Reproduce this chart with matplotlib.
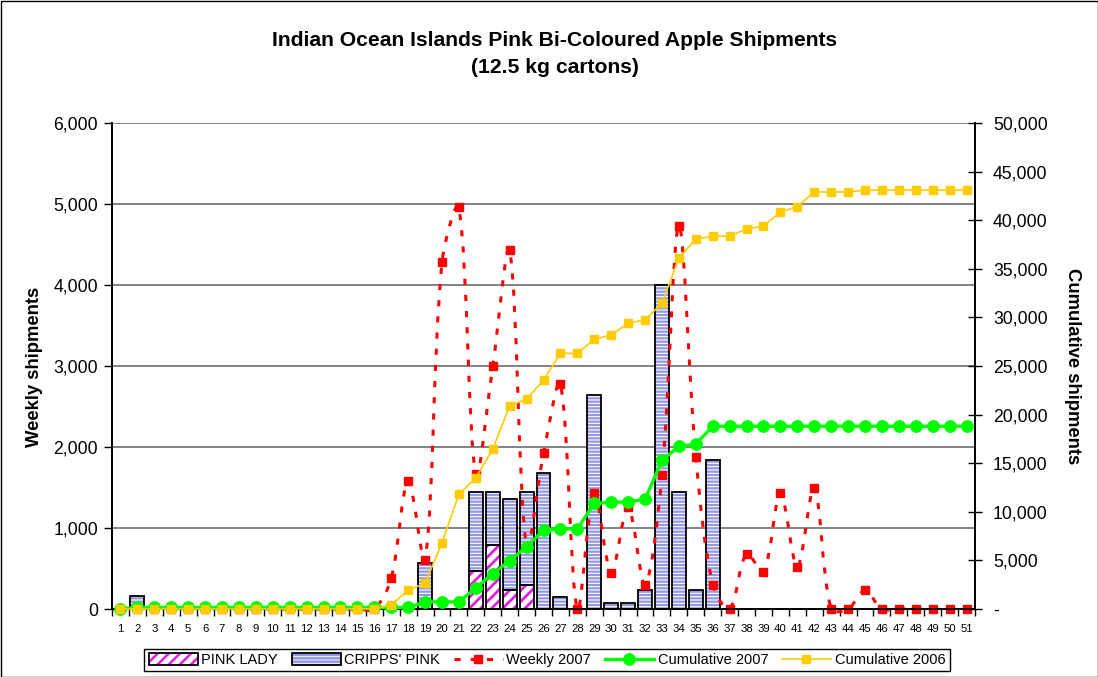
import matplotlib
matplotlib.use("Agg")
import matplotlib.pyplot as plt
import numpy as np
from matplotlib.path import Path
from matplotlib.patches import PathPatch, Patch, Rectangle
from matplotlib.lines import Line2D
from matplotlib.legend_handler import HandlerTuple
from matplotlib.ticker import FuncFormatter, MultipleLocator, FixedLocator

plt.rcParams['font.family'] = ['Liberation Sans', 'DejaVu Sans']
plt.rcParams['hatch.linewidth'] = 1.8

weeks = list(range(1, 52))

pink_lady = [0]*21 + [470, 790, 235, 300] + [0]*26

cripps_pink = [0, 160] + [0]*16 + [570, 0, 0, 970, 650, 1125, 1140, 1680, 150, 0,
               2640, 80, 80, 240, 4000, 1440, 240, 1840] + [0]*15

weekly_2007 = [0]*16 + [380, 1580, 600, 4280, 4960, 1670, 3000, 4430, 770, 1920, 2780, 0,
               1430, 450, 1260, 300, 1650, 4730, 1880, 300, 0, 680, 460, 1430, 520, 1500,
               0, 0, 230, 0, 0, 0, 0, 0, 0]

cumulative_2007 = [0] + [160]*17 + [730, 730, 730, 2170, 3610, 4970, 6410, 8090, 8240, 8240,
                   10880, 10960, 11040, 11280, 15280, 16720, 16960] + [18800]*16

cumulative_2006 = [0]*16 + [400, 1950, 2640, 6800, 11800, 13500, 16450, 20900, 21600, 23550,
                   26300, 26300, 27750, 28200, 29400, 29750, 31450, 36100, 38050, 38350,
                   38350, 39100, 39400, 40850, 41400, 42900, 42900, 42900] + [43100]*7

W, H = 1098, 677
fig = plt.figure(figsize=(W/100, H/100), dpi=100)
L, R, B, T = 112, 975, 609, 123
ax = fig.add_axes([L/W, 1-B/H, (R-L)/W, (B-T)/H])
ax2 = ax.twinx()

PL_COL = '#e020e0'
CP_COL = '#9498e4'


def hatch_lw(artists, lw):
    for a in artists:
        if hasattr(a, 'set_hatch_linewidth'):
            a.set_hatch_linewidth(lw)


x = np.array(weeks, dtype=float)
pl = np.array(pink_lady, dtype=float)
cp = np.array(cripps_pink, dtype=float)
bw = 0.82

b1 = ax.bar(x, pl, width=bw, facecolor='white', edgecolor=PL_COL, hatch='///', linewidth=0, zorder=2)
hatch_lw(b1, 2.0)
b2 = ax.bar(x, cp, bottom=pl, width=bw, facecolor='white', edgecolor=CP_COL, hatch='-----', linewidth=0, zorder=2)
hatch_lw(b2, 1.6)
mask_pl = pl > 0
mask_cp = cp > 0
ax.bar(x[mask_pl], pl[mask_pl], width=bw, facecolor='none', edgecolor='black', linewidth=1.3, zorder=3)
ax.bar(x[mask_cp], cp[mask_cp], bottom=pl[mask_cp], width=bw, facecolor='none', edgecolor='black', linewidth=1.3, zorder=3)

ax.set_xlim(0.5, 51.5)
ax.set_ylim(0, 6000)
ax2.set_ylim(0, 50000)

# smoothed weekly line: Bezier segments, tangents weighted by screen-space segment lengths
wy = np.array(weekly_2007, dtype=float)
sx = (R - L) / 51.0          # px per week
sy = (B - T) / 6000.0        # px per unit
pts = np.column_stack([x, wy])
scr = np.column_stack([x * sx, wy * sy])
n = len(pts)
dist = np.hypot(np.diff(scr[:, 0]), np.diff(scr[:, 1]))
c_out = []
c_in = []
for i in range(n):
    prv = pts[i-1] if i > 0 else pts[i]
    nxt = pts[i+1] if i < n-1 else pts[i]
    tan = nxt - prv
    dp = dist[i-1] if i > 0 else 0.0
    dn = dist[i] if i < n-1 else 0.0
    tot = dp + dn if (dp + dn) > 0 else 1.0
    c_out.append(pts[i] + tan * (dn / tot) / 3.0)
    c_in.append(pts[i] - tan * (dp / tot) / 3.0)
verts = [tuple(pts[0])]
codes = [Path.MOVETO]
for i in range(n-1):
    verts += [tuple(c_out[i]), tuple(c_in[i+1]), tuple(pts[i+1])]
    codes += [Path.CURVE4]*3
red_ls = (0, (2, 3.3))
ax.add_patch(PathPatch(Path(verts, codes), fill=False, edgecolor='#ff0000', linewidth=2.2,
                       linestyle=red_ls, zorder=4, clip_on=False))
ax.plot(x, wy, linestyle='none', marker='s', markersize=6.3, color='#ff0000', zorder=5, clip_on=False)

ax2.plot(x, cumulative_2007, color='#00ff00', linewidth=2.4, marker='o', markersize=8.2, zorder=5, clip_on=False)
ax2.plot(x, cumulative_2006, color='#ffcc00', linewidth=1.2, marker='s', markersize=6.3, zorder=6, clip_on=False)

ax.set_zorder(1)
ax2.set_zorder(2)
ax.patch.set_visible(False)

ax.yaxis.set_major_locator(MultipleLocator(1000))
ax.yaxis.set_major_formatter(FuncFormatter(lambda v, p: f"{int(v):,}"))
ax2.yaxis.set_major_locator(MultipleLocator(5000))
ax2.yaxis.set_major_formatter(FuncFormatter(lambda v, p: "-" if v == 0 else f"{int(v):,}"))

ax.set_xticks(weeks)
ax.set_xticklabels([str(w) for w in weeks], fontsize=8.2)
ax.xaxis.set_minor_locator(FixedLocator(np.arange(0.5, 52, 1)))
ax.tick_params(axis='x', which='major', length=0, pad=10.5)
ax.tick_params(axis='x', which='minor', length=5, width=1, direction='out')
ax.tick_params(axis='y', which='major', length=6, width=1, direction='out', labelsize=12.7, pad=4)
ax2.tick_params(axis='y', which='major', length=10, width=1, direction='inout', labelsize=12.7, pad=8)

ax.yaxis.grid(True, color='#606060', linewidth=1.1, zorder=0)
ax.set_axisbelow(True)

for a in (ax, ax2):
    a.spines['top'].set_visible(False)
    for s in ('left', 'right', 'bottom'):
        a.spines[s].set_linewidth(1.3)
        a.spines[s].set_color('black')

fig.text(555/W, 1-54/H, "Indian Ocean Islands Pink Bi-Coloured Apple Shipments\n(12.5 kg cartons)",
         ha='center', va='center', fontsize=15.2, fontweight='bold', linespacing=1.5)
fig.text(35/W, 1-367/H, "Weekly shipments", rotation=90, ha='center', va='center',
         fontsize=13.3, fontweight='bold')
fig.text(1072/W, 1-366/H, "Cumulative shipments", rotation=270, ha='center', va='center',
         fontsize=13.3, fontweight='bold')

# legend
h_pl_fill = Patch(facecolor='white', edgecolor=PL_COL, hatch='///', linewidth=0)
h_cp_fill = Patch(facecolor='white', edgecolor=CP_COL, hatch='-----', linewidth=0)
h_edge = Patch(facecolor='none', edgecolor='black', linewidth=1.3)
h_red = Line2D([], [], color='#ff0000', linewidth=2.2, linestyle=red_ls, marker='s', markersize=6.3)
h_green = Line2D([], [], color='#00ff00', linewidth=2.4, marker='o', markersize=8.2)
h_yel = Line2D([], [], color='#ffcc00', linewidth=1.2, marker='s', markersize=6.3)
leg = fig.legend([(h_pl_fill, h_edge), (h_cp_fill, h_edge), h_red, h_green, h_yel],
                 ["PINK LADY", "CRIPPS' PINK", "Weekly 2007", "Cumulative 2007", "Cumulative 2006"],
                 handler_map={tuple: HandlerTuple(ndivide=1, pad=0)},
                 loc='center', bbox_to_anchor=(547/W, 1-660/H), ncol=5, fontsize=10.5,
                 frameon=True, fancybox=False, edgecolor='black', framealpha=1,
                 handlelength=3.35, handleheight=0.85, handletextpad=0.25, columnspacing=0.95,
                 borderpad=0.3, borderaxespad=0)
leg.get_frame().set_linewidth(1.0)

fig.patches.append(Rectangle((0.5/W, 0.5/H), 1-1/W, 1-1/H, transform=fig.transFigure,
                             fill=False, edgecolor='black', linewidth=1.0))

fig.savefig("out.png", dpi=100)
